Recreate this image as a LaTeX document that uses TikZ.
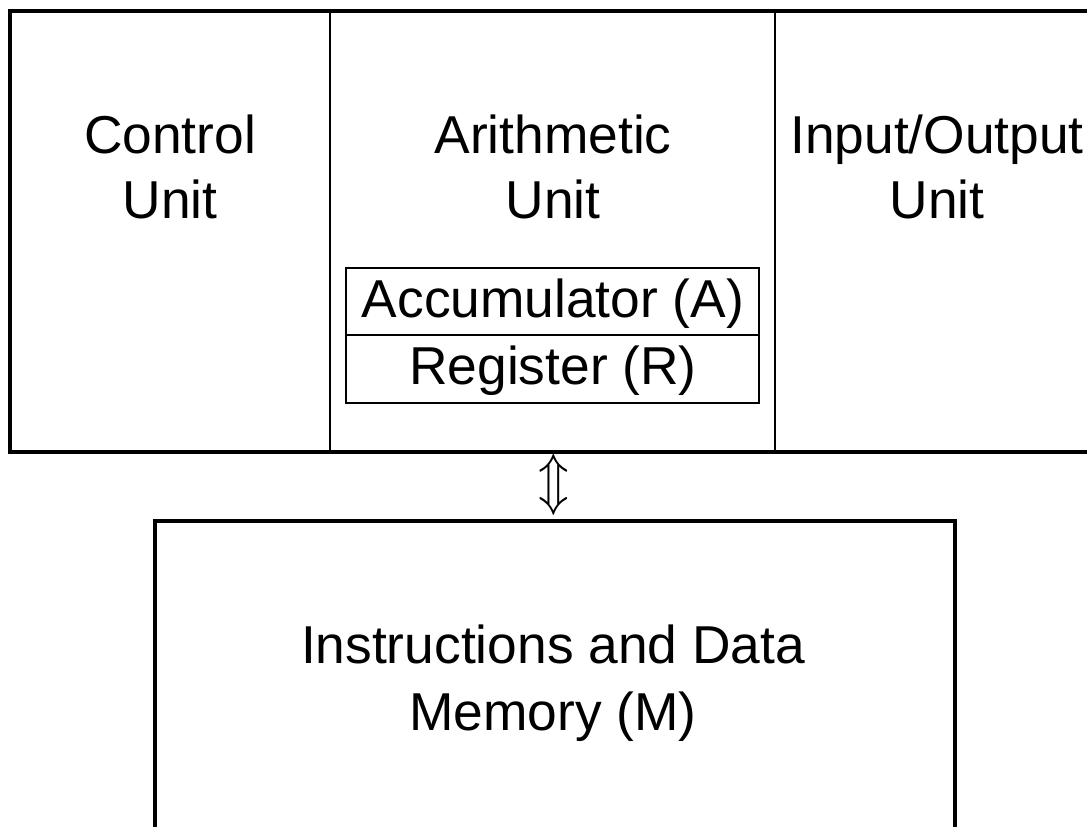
\documentclass[tikz,border=0pt]{standalone}
\usepackage{fontspec}
\usepackage{graphicx}
\setmainfont{Liberation Sans}
\begin{document}
\begin{tikzpicture}[x=0.75pt,y=-0.75pt,
  label/.style={font=\fontsize{40}{48}\selectfont, align=center, inner sep=0pt, anchor=base},
  heavy/.style={line width=2.3pt},
  medium/.style={line width=1.5pt},
  thin/.style={line width=1.1pt}]
\useasboundingbox (0,0) rectangle (1087,827);
% processor frame, open on the right
\draw[heavy] (1087,11) -- (10,11) -- (10,452) -- (1087,452);
\draw[medium] (330,11) -- (330,452);
\draw[medium] (775,11) -- (775,452);
% unit names
\node[label] (cu) at (170,154) {Control};
\node[label] (cu2) at (170,219) {Unit};
\node[label] (au) at (553,154) {Arithmetic};
\node[label] (au2) at (553,219) {Unit};
\node[label] (io) at (937,154) {Input/Output};
\node[label] (io2) at (937,219) {Unit};
% registers of the arithmetic unit
\draw[thin] (346,268) rectangle (759,403);
\draw[thin] (346,335) -- (759,335);
\node[label] (acc) at (553,317) {Accumulator (A)};
\node[label] (reg) at (553,384) {Register (R)};
% link to memory
\node[inner sep=0pt] (link) at (554,485) {\resizebox{23pt}{33pt}{$\Updownarrow$}};
% memory, open at the bottom
\draw[heavy] (155,827) -- (155,521) -- (955,521) -- (955,827);
\node[label] (mem) at (553,663) {Instructions and Data};
\node[label] (mem2) at (553,730) {Memory (M)};
\end{tikzpicture}
\end{document}
